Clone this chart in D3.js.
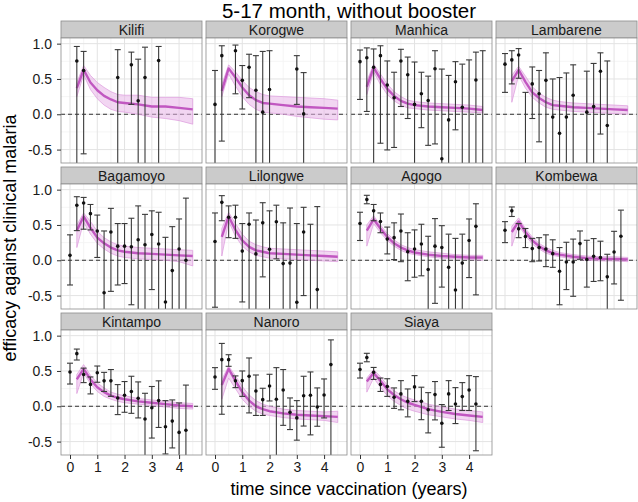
<!DOCTYPE html>
<html>
<head>
<meta charset="utf-8">
<script src="https://cdnjs.cloudflare.com/ajax/libs/d3/7.8.5/d3.min.js"></script>
<style>
  body { margin: 0; background: #fff; }
  text { font-family: "Liberation Sans", Arial, sans-serif; }
</style>
</head>
<body>
<div id="chart"></div>
<script>
// sites in facet order
var sites = ["Kilifi", "Korogwe", "Manhica", "Lambarene", "Bagamoyo", "Lilongwe",
  "Agogo", "Kombewa", "Kintampo", "Nanoro", "Siaya"];

// observed efficacy, one value per quarter (null = no estimate, -1 = below the panel)
var obsTimes = [0, 0.25, 0.5, 0.75, 1, 1.25, 1.5, 1.75, 2, 2.25, 2.5, 2.75, 3, 3.25, 3.5, 3.75, 4, 4.25, 4.5];

var obsEst = [
  [null, 0.755, 0.62, null, null, null, null, 0.52, null, 0.70, 0.19, 0.52, null, 0.76, null, null, null, null, null],
  [0.14, 0.83, null, 0.90, 0.48, 0.665, 0.34, 0.03, 0.35, null, null, null, 0.64, 0.005, null, null, null, null, null],
  [0.745, 0.80, 0.665, 0.83, 0.415, 0.235, 0.755, 0.56, 0.14, 0.29, 0.195, 0.645, -0.63, -0.08, 0.46, 0.10, -0.8, 0.485, -0.8],
  [0.71, 0.77, 0.84, -0.9, 0.43, 0.29, 0.48, -0.04, -0.27, -0.04, 0.27, null, 0.03, 0.11, 0.61, -0.16, null, null, null],
  [0.07, 0.78, 0.81, 0.66, 0.415, -0.46, 0.40, 0.20, 0.20, 0.19, 0.29, 0.22, 0.365, 0.23, -0.59, -0.146, 0.16, 0.0, null],
  [0.265, 0.82, 0.61, 0.61, 0.13, 0.51, 0.09, 0.53, 0.155, 0.545, -0.047, -0.04, -0.595, 0.40, -0.9, -0.415, null, null, null],
  [0.52, 0.86, 0.70, 0.55, 0.30, 0.32, 0.415, 0.12, 0.16, 0.23, -0.13, 0.20, 0.18, -0.10, -0.42, -0.04, 0.28, 0.48, null],
  [0.425, 0.70, 0.445, 0.335, 0.165, 0.18, 0.16, 0.094, -0.155, -0.024, -0.024, 0.236, 0.01, 0.057, 0.04, -0.235, 0.118, 0.34, null],
  [0.485, 0.745, 0.45, 0.31, 0.475, 0.36, 0.36, 0.118, 0.155, 0.21, 0.113, -0.18, -0.02, 0.08, -0.29, -0.21, -0.37, -0.34, null],
  [0.415, 0.66, 0.66, 0.36, 0.363, 0.425, 0.217, 0.094, 0.288, 0.1, 0.23, -0.085, -0.165, 0.15, 0.155, -0.01, 0.16, 0.59, null],
  [0.52, 0.69, 0.48, 0.31, 0.28, 0.127, 0.175, 0.07, 0.274, 0.07, -0.05, 0.165, -0.24, 0.175, 0.033, 0.137, 0.23, 0.033, null]
];

var obsLo = [
  [null, -1, -0.56, null, null, null, null, -1, null, 0.14, -1, -1, null, -1, null, null, null, null, null],
  [-1, -0.38, null, 0.29, 0.075, 0.235, -1, -1, -1, null, null, null, 0.14, -1, null, null, null, null, null],
  [0.21, 0.04, -1, -0.41, -0.505, -0.47, 0.11, -0.06, -1, -0.19, -0.44, -0.42, -1, -1, -0.22, -1, -1, -1, -1],
  [0.31, 0.43, 0.51, -1, -0.06, -0.39, -1, -1, -1, -1, -1, null, -1, -1, -0.28, -1, null, null, null],
  [-0.35, 0.42, 0.44, 0.43, 0.04, -1, -0.44, -0.35, -0.33, -0.63, -1, -1, -0.415, -1, -1, -1, -1, -1, null],
  [-0.665, 0.56, 0.32, 0.31, -0.59, -1, -1, -0.235, -1, 0.02, -1, -1, -1, -0.5, -1, -1, null, null, null],
  [0.28, 0.80, 0.56, 0.39, 0.09, 0.01, -0.02, -0.29, -0.24, -0.22, -1, -0.61, -0.38, -1, -1, -1, -0.245, -0.49, null],
  [0.25, 0.62, 0.32, 0.18, -0.02, -0.01, -0.09, -0.1, -0.63, -0.415, -0.51, 0.014, -0.38, -0.30, -0.29, -1, -0.335, -0.566, null],
  [0.315, 0.655, 0.335, 0.175, 0.34, 0.21, 0.14, -0.118, -0.085, -0.1, -0.165, -1, -0.45, -0.3, -0.675, -0.59, -1, -1, null],
  [0.24, -0.113, 0.566, 0.264, 0.14, -0.094, -0.13, -0.13, 0.075, -1, -0.27, -0.33, -0.48, -0.28, -0.405, -0.283, -0.165, -1, null],
  [0.40, 0.63, 0.38, 0.21, 0.14, -0.03, -0.05, -0.15, 0.066, -0.19, -0.377, -0.193, -0.58, -0.06, -0.245, -0.06, -0.06, -0.63, null]
];

var obsHi = [
  [null, 0.96, 0.89, null, null, null, null, 0.915, null, 0.88, 0.78, 0.95, null, 0.96, null, null, null, null, null],
  [0.62, 0.97, null, 0.98, 0.69, 0.85, 0.83, 0.89, 0.90, null, null, null, 0.83, 0.59, null, null, null, null, null],
  [0.91, 0.94, 0.925, 0.97, 0.755, 0.595, 0.92, 0.81, 0.74, 0.595, 0.54, 0.90, 0.64, 0.55, 0.745, 0.71, 0.77, 0.88, 0.90],
  [0.86, 0.90, 0.93, 0.31, 0.67, 0.62, 0.87, 0.50, 0.52, 0.585, 0.70, null, 0.61, 0.72, 0.87, 0.755, null, null, null],
  [0.36, 0.90, 0.89, 0.79, 0.64, 0.415, 0.735, 0.52, 0.52, 0.595, 0.77, 0.65, 0.70, 0.68, 0.325, 0.476, 0.585, 0.88, null],
  [0.67, 0.915, 0.77, 0.78, 0.52, 0.67, 0.57, 0.815, 0.70, 0.78, 0.53, 0.74, 0.52, 0.75, 0.51, 0.76, null, null, null],
  [0.68, 0.92, 0.79, 0.67, 0.47, 0.53, 0.655, 0.39, 0.43, 0.51, 0.34, 0.59, 0.49, 0.37, 0.31, 0.37, 0.585, 0.80, null],
  [0.547, 0.755, 0.52, 0.45, 0.31, 0.32, 0.36, 0.29, 0.18, 0.255, 0.30, 0.415, 0.283, 0.307, 0.27, 0.085, 0.41, 0.71, null],
  [0.61, 0.81, 0.54, 0.415, 0.57, 0.48, 0.52, 0.307, 0.35, 0.425, 0.345, 0.184, 0.28, 0.36, 0.08, 0.09, 0.047, 0.30, null],
  [0.547, 0.89, 0.73, 0.43, 0.5, 0.684, 0.443, 0.255, 0.453, 0.547, 0.52, 0.118, 0.08, 0.425, 0.486, 0.26, 0.387, 0.94, null],
  [0.61, 0.75, 0.55, 0.40, 0.39, 0.26, 0.363, 0.245, 0.434, 0.27, 0.193, 0.35, 0.024, 0.363, 0.264, 0.335, 0.434, 0.42, null]
];

// model prediction (median and interval)
var modelTimes = [0.25, 0.5, 0.75, 1, 1.25, 1.5, 1.75, 2, 2.5, 3, 3.5, 4, 4.5];

var modelMean = [
  [0.37, 0.63, 0.45, 0.34, 0.26, 0.21, 0.17, 0.16, 0.14, 0.11, 0.11, 0.09, 0.07],
  [0.33, 0.65, 0.52, 0.38, 0.27, 0.20, 0.16, 0.15, 0.13, 0.11, 0.10, 0.09, 0.08],
  [0.39, 0.66, 0.50, 0.36, 0.26, 0.19, 0.15, 0.13, 0.11, 0.10, 0.09, 0.08, 0.06],
  [0.47, 0.63, 0.46, 0.31, 0.23, 0.17, 0.13, 0.12, 0.10, 0.09, 0.08, 0.07, 0.06],
  [0.42, 0.62, 0.46, 0.32, 0.24, 0.18, 0.14, 0.12, 0.10, 0.09, 0.08, 0.07, 0.06],
  [0.33, 0.62, 0.43, 0.28, 0.19, 0.14, 0.12, 0.10, 0.09, 0.08, 0.07, 0.06, 0.05],
  [0.42, 0.58, 0.45, 0.33, 0.24, 0.18, 0.14, 0.11, 0.08, 0.06, 0.05, 0.04, 0.04],
  [0.40, 0.55, 0.40, 0.28, 0.20, 0.14, 0.10, 0.08, 0.05, 0.03, 0.02, 0.02, 0.01],
  [0.38, 0.53, 0.38, 0.27, 0.20, 0.15, 0.12, 0.10, 0.07, 0.05, 0.03, 0.01, 0.00],
  [0.30, 0.53, 0.36, 0.20, 0.08, 0.00, -0.04, -0.07, -0.10, -0.12, -0.13, -0.14, -0.15],
  [0.35, 0.47, 0.36, 0.24, 0.16, 0.10, 0.05, 0.02, -0.04, -0.08, -0.11, -0.13, -0.15]
];

var modelLo = [
  [0.25, 0.56, 0.35, 0.22, 0.13, 0.07, 0.04, 0.03, 0.00, -0.04, -0.06, -0.09, -0.14],
  [0.25, 0.57, 0.40, 0.25, 0.14, 0.07, 0.03, 0.02, 0.00, -0.03, -0.05, -0.07, -0.08],
  [0.28, 0.60, 0.42, 0.28, 0.19, 0.13, 0.09, 0.08, 0.06, 0.05, 0.04, 0.03, 0.02],
  [0.17, 0.55, 0.37, 0.24, 0.16, 0.10, 0.07, 0.06, 0.04, 0.03, 0.02, 0.01, 0.00],
  [0.18, 0.54, 0.37, 0.24, 0.16, 0.10, 0.06, 0.04, 0.02, 0.01, 0.00, -0.02, -0.08],
  [0.06, 0.55, 0.34, 0.20, 0.12, 0.07, 0.05, 0.03, 0.02, 0.01, 0.00, -0.01, -0.02],
  [0.20, 0.52, 0.39, 0.28, 0.20, 0.14, 0.10, 0.08, 0.05, 0.03, 0.02, 0.01, 0.00],
  [0.20, 0.49, 0.35, 0.23, 0.16, 0.10, 0.07, 0.05, 0.02, 0.00, -0.01, -0.01, -0.02],
  [0.18, 0.47, 0.32, 0.21, 0.14, 0.10, 0.07, 0.05, 0.03, 0.01, -0.01, -0.03, -0.04],
  [0.10, 0.40, 0.25, 0.10, 0.00, -0.07, -0.11, -0.13, -0.16, -0.18, -0.19, -0.20, -0.23],
  [0.20, 0.40, 0.27, 0.15, 0.07, 0.01, -0.04, -0.07, -0.12, -0.15, -0.18, -0.20, -0.23]
];

var modelHi = [
  [0.45, 0.69, 0.55, 0.45, 0.38, 0.32, 0.28, 0.27, 0.27, 0.24, 0.24, 0.24, 0.22],
  [0.42, 0.70, 0.60, 0.48, 0.38, 0.32, 0.28, 0.26, 0.25, 0.24, 0.23, 0.22, 0.20],
  [0.47, 0.71, 0.57, 0.43, 0.32, 0.25, 0.20, 0.18, 0.16, 0.15, 0.14, 0.13, 0.11],
  [0.55, 0.68, 0.54, 0.39, 0.30, 0.24, 0.20, 0.18, 0.16, 0.15, 0.14, 0.13, 0.12],
  [0.50, 0.67, 0.55, 0.41, 0.32, 0.26, 0.22, 0.20, 0.18, 0.17, 0.16, 0.15, 0.14],
  [0.45, 0.68, 0.52, 0.37, 0.27, 0.22, 0.19, 0.17, 0.16, 0.15, 0.14, 0.13, 0.12],
  [0.50, 0.63, 0.50, 0.38, 0.29, 0.22, 0.18, 0.15, 0.12, 0.10, 0.08, 0.07, 0.07],
  [0.48, 0.60, 0.45, 0.33, 0.24, 0.18, 0.14, 0.11, 0.08, 0.06, 0.05, 0.05, 0.04],
  [0.45, 0.59, 0.44, 0.33, 0.26, 0.20, 0.17, 0.15, 0.11, 0.09, 0.07, 0.05, 0.04],
  [0.38, 0.57, 0.43, 0.28, 0.16, 0.08, 0.03, 0.00, -0.04, -0.06, -0.07, -0.08, -0.07],
  [0.40, 0.52, 0.42, 0.30, 0.22, 0.16, 0.12, 0.09, 0.03, -0.01, -0.04, -0.06, -0.08]
];

var xTicks = [0, 1, 2, 3, 4];
var xMinor = [0.5, 1.5, 2.5, 3.5, 4.5];
var yTicks = [-0.5, 0, 0.5, 1.0];
var yMinor = [-0.25, 0.25, 0.75];

var svgWidth = 638;
var svgHeight = 502;

var margin = { top: 21, left: 61 };
var panelW = 141, panelH = 125, stripH = 17, gap = 4;
var nCols = 4;

var svg = d3.select("#chart")
  .append("svg")
  .attr("width", svgWidth)
  .attr("height", svgHeight);

var xScale = d3.scaleLinear().domain([-0.33, 4.84]).range([0, panelW]);
var yScale = d3.scaleLinear().domain([-0.69, 1.08]).range([panelH, 0]);

var lineColor = "#c157c1";

var ribbon = d3.area()
  .x(function(d, i) { return xScale(modelTimes[i]); })
  .y0(function(d) { return yScale(d[0]); })
  .y1(function(d) { return yScale(d[1]); });

var modelLine = d3.line()
  .x(function(d, i) { return xScale(modelTimes[i]); })
  .y(function(d) { return yScale(d); });

var nRows = Math.ceil(sites.length / nCols);

sites.forEach(function(site, s) {
  var col = s % nCols;
  var row = Math.floor(s / nCols);
  var px = margin.left + col * (panelW + gap);
  var py = margin.top + row * (stripH + panelH + gap);

  var panel = svg.append("g").attr("transform", `translate(${px}, ${py})`);

  // strip
  panel.append("rect")
    .attr("width", panelW).attr("height", stripH)
    .attr("fill", "#cbcbcb").attr("stroke", "#8c8c8c").attr("stroke-width", 0.8);
  panel.append("text")
    .attr("x", panelW / 2).attr("y", stripH / 2 + 5)
    .attr("text-anchor", "middle")
    .attr("font-size", "14px").attr("fill", "#1a1a1a")
    .text(site);

  var chartGroup = panel.append("g").attr("transform", `translate(0, ${stripH})`);

  chartGroup.append("rect")
    .attr("width", panelW).attr("height", panelH).attr("fill", "#fff");

  // grid
  chartGroup.selectAll(".xminor").data(xMinor).enter().append("line")
    .attr("x1", d => xScale(d)).attr("x2", d => xScale(d))
    .attr("y1", 0).attr("y2", panelH)
    .attr("stroke", "#f2f2f2").attr("stroke-width", 0.8);
  chartGroup.selectAll(".yminor").data(yMinor).enter().append("line")
    .attr("y1", d => yScale(d)).attr("y2", d => yScale(d))
    .attr("x1", 0).attr("x2", panelW)
    .attr("stroke", "#f2f2f2").attr("stroke-width", 0.8);
  chartGroup.selectAll(".xmajor").data(xTicks).enter().append("line")
    .attr("x1", d => xScale(d)).attr("x2", d => xScale(d))
    .attr("y1", 0).attr("y2", panelH)
    .attr("stroke", "#e3e3e3").attr("stroke-width", 1);
  chartGroup.selectAll(".ymajor").data(yTicks).enter().append("line")
    .attr("y1", d => yScale(d)).attr("y2", d => yScale(d))
    .attr("x1", 0).attr("x2", panelW)
    .attr("stroke", "#e3e3e3").attr("stroke-width", 1);

  var clipId = "clip" + s;
  chartGroup.append("clipPath").attr("id", clipId)
    .append("rect").attr("width", panelW).attr("height", panelH);

  var marks = chartGroup.append("g").attr("clip-path", `url(#${clipId})`);

  // zero line
  marks.append("line")
    .attr("x1", 0).attr("x2", panelW)
    .attr("y1", yScale(0)).attr("y2", yScale(0))
    .attr("stroke", "#333").attr("stroke-width", 1)
    .attr("stroke-dasharray", "4,3");

  // model ribbon + line
  var band = modelLo[s].map(function(lo, i) { return [lo, modelHi[s][i]]; });
  marks.append("path")
    .attr("d", ribbon(band))
    .attr("fill", "#e7b4e7").attr("fill-opacity", 0.55)
    .attr("stroke", "#dc9adc").attr("stroke-width", 0.7);
  marks.append("path")
    .attr("d", modelLine(modelMean[s]))
    .attr("fill", "none")
    .attr("stroke", lineColor).attr("stroke-width", 2.4)
    .attr("stroke-linejoin", "round");

  // observed estimates with error bars
  var obs = [];
  obsTimes.forEach(function(t, i) {
    if (obsEst[s][i] !== null) {
      obs.push({ t: t, est: obsEst[s][i], lo: obsLo[s][i], hi: obsHi[s][i] });
    }
  });

  var bars = marks.selectAll(".obs").data(obs).enter().append("g");
  bars.append("line")
    .attr("x1", d => xScale(d.t)).attr("x2", d => xScale(d.t))
    .attr("y1", d => yScale(d.lo)).attr("y2", d => yScale(d.hi))
    .attr("stroke", "#3a3a3a").attr("stroke-width", 1.1);
  bars.append("line")
    .attr("x1", d => xScale(d.t) - 3).attr("x2", d => xScale(d.t) + 3)
    .attr("y1", d => yScale(d.hi)).attr("y2", d => yScale(d.hi))
    .attr("stroke", "#3a3a3a").attr("stroke-width", 1.1);
  bars.append("line")
    .attr("x1", d => xScale(d.t) - 3).attr("x2", d => xScale(d.t) + 3)
    .attr("y1", d => yScale(d.lo)).attr("y2", d => yScale(d.lo))
    .attr("stroke", "#3a3a3a").attr("stroke-width", 1.1);
  bars.append("circle")
    .attr("cx", d => xScale(d.t)).attr("cy", d => yScale(d.est))
    .attr("r", 1.8).attr("fill", "#111");

  // panel border
  chartGroup.append("rect")
    .attr("width", panelW).attr("height", panelH)
    .attr("fill", "none").attr("stroke", "#8c8c8c").attr("stroke-width", 0.8);

  // y axis on first column
  if (col === 0) {
    var leftAxis = d3.axisLeft(yScale).tickValues(yTicks)
      .tickFormat(d => d.toFixed(1)).tickSize(4).tickPadding(5);
    var yAxis = chartGroup.append("g").call(leftAxis);
    yAxis.select(".domain").remove();
    yAxis.selectAll("line").attr("stroke", "#333");
    yAxis.selectAll("text").attr("font-size", "14px").attr("fill", "#1a1a1a")
      .style("font-family", "'Liberation Sans', Arial, sans-serif");
  }

  // x axis under the bottom row only
  if (row === nRows - 1) {
    var bottomAxis = d3.axisBottom(xScale).tickValues(xTicks)
      .tickFormat(d3.format("d")).tickSize(4).tickPadding(3);
    var xAxis = chartGroup.append("g")
      .attr("transform", `translate(0, ${panelH})`)
      .call(bottomAxis);
    xAxis.select(".domain").remove();
    xAxis.selectAll("line").attr("stroke", "#333");
    xAxis.selectAll("text").attr("font-size", "14px").attr("fill", "#1a1a1a")
      .style("font-family", "'Liberation Sans', Arial, sans-serif");
  }
});

var gridRight = margin.left + nCols * panelW + (nCols - 1) * gap;
var gridBottom = margin.top + nRows * (stripH + panelH) + (nRows - 1) * gap;
var centerX = (margin.left + gridRight) / 2;

// title
svg.append("text")
  .attr("x", centerX).attr("y", 17.5)
  .attr("text-anchor", "middle")
  .attr("font-size", "20.5px").attr("fill", "#000")
  .text("5-17 month, without booster");

// axis titles
svg.append("text")
  .attr("x", centerX).attr("y", 495)
  .attr("text-anchor", "middle")
  .attr("font-size", "18px").attr("fill", "#000")
  .text("time since vaccination (years)");

svg.append("text")
  .attr("transform", `translate(16, ${(margin.top + gridBottom) / 2}) rotate(-90)`)
  .attr("text-anchor", "middle")
  .attr("font-size", "18px").attr("fill", "#000")
  .text("efficacy against clinical malaria");
</script>
</body>
</html>
